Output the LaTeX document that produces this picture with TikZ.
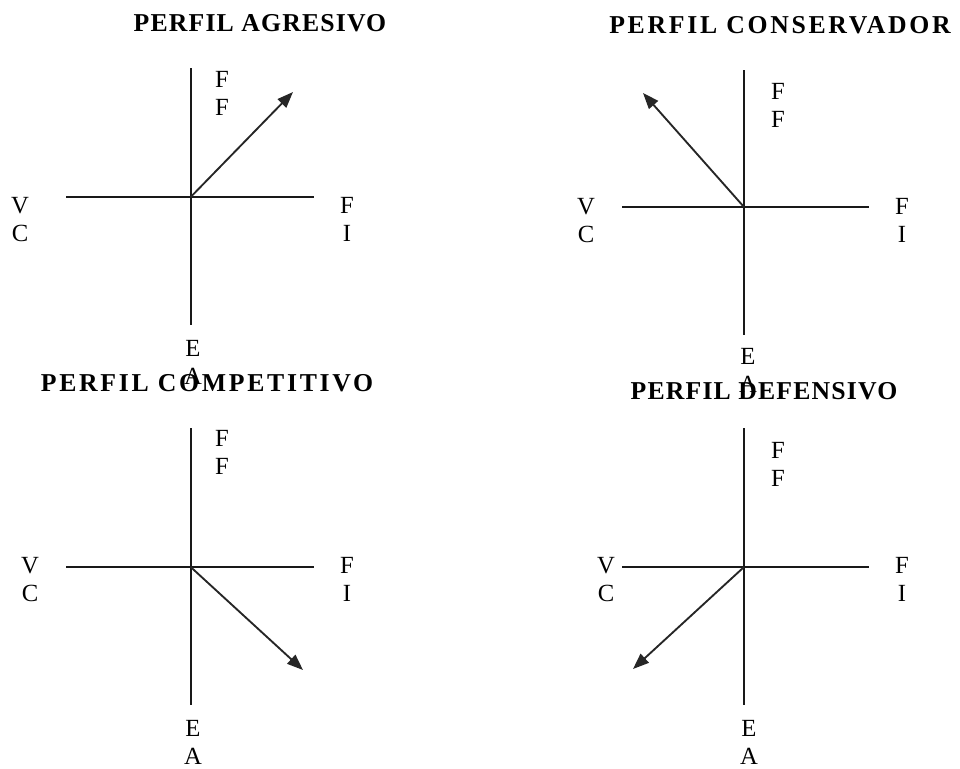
\documentclass[tikz,border=0pt]{standalone}
\usepackage{fontspec}
\setmainfont{Liberation Serif}
\newfontfamily\titlefont{Liberation Serif}[LetterSpace=4.5]
\newfontfamily\widetitlefont{Liberation Serif}[LetterSpace=10.5]
\usetikzlibrary{arrows.meta}

\begin{document}
\begin{tikzpicture}[
  x=0.75pt, y=-0.75pt,
  axis/.style={line width=1.4pt, draw=black!90},
  vec/.style={line width=1.4pt, draw=black!85, -{Triangle[length=12pt, width=9pt]}},
  lbl/.style={anchor=north, inner sep=0pt, align=center, font=\fontsize{18.5}{21}\selectfont},
  title/.style={anchor=base, inner sep=0pt, font=\titlefont\bfseries\fontsize{19.3}{22}\selectfont},
  widetitle/.style={title, font=\widetitlefont\bfseries\fontsize{19.3}{22}\selectfont}
]
\useasboundingbox (0,0) rectangle (960,768);
% titles
\node[title] (t1) at (260,31) {PERFIL AGRESIVO};
\node[widetitle] (t2) at (780,33) {PERFIL CONSERVADOR};
\node[widetitle] (t3) at (207,391) {PERFIL COMPETITIVO};
\node[title] (t4) at (764,399) {PERFIL DEFENSIVO};
% axes and profile vectors
\foreach \p/\ox/\oy/\top/\bot/\lft/\rgt/\tx/\ty in {1/190.7/197/68/325/66/314/293/92,
    2/744/207/70/335/622/869/643/93,
    3/190.7/567/428/705/66/314/303/670,
    4/744/567/428/705/622/869/633/669} {
  \coordinate (o\p) at (\ox,\oy);
  \coordinate (n\p) at (\ox,\top);
  \coordinate (s\p) at (\ox,\bot);
  \coordinate (w\p) at (\lft,\oy);
  \coordinate (e\p) at (\rgt,\oy);
  \coordinate (tip\p) at (\tx,\ty);
  \draw[axis] (n\p) -- (s\p);
  \draw[axis] (w\p) -- (e\p);
  \draw[vec] (o\p) -- (tip\p);
}
% axis labels
\foreach \p/\ffx/\ffy/\vcx/\vcy/\fix/\eax/\eay in {1/222/71/20/197/347/193/340,
    2/778/83/586/198/902/748/348,
    3/222/430/30/557/347/193/720,
    4/778/442/606/557/902/749/720} {
  \node[lbl] (ff\p) at (\ffx,\ffy) {F\\F};
  \node[lbl] (vc\p) at (\vcx,\vcy) {V\\C};
  \node[lbl] (fi\p) at (\fix,\vcy) {F\\I};
  \node[lbl] (ea\p) at (\eax,\eay) {E\\A};
}
\end{tikzpicture}
\end{document}
